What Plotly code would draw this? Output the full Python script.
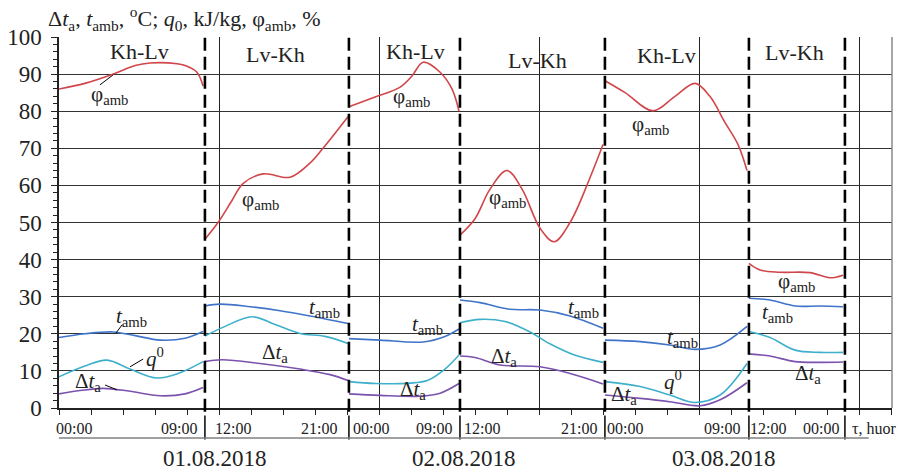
import plotly.graph_objects as go

# ---------------- data ----------------
routes = ["Kh-Lv", "Lv-Kh", "Kh-Lv", "Lv-Kh", "Kh-Lv", "Lv-Kh"]
route_x = [2.53, 6.75, 11.13, 14.94, 18.97, 22.97]
route_y = [96, 95.4, 96, 93.8, 95.1, 95.7]
boundaries = [4.56, 9.06, 12.53, 17.06, 21.56, 24.56]

# relative humidity phi_amb, %
phi_x = [[0, 0.81, 1.69, 2.38, 2.84, 3.69, 3.94, 4.31, 4.5],
         [4.56, 4.97, 5.41, 5.75, 6.38, 7.22, 7.84, 8.25, 9.03],
         [9.06, 9.88, 10.66, 11.03, 11.38, 11.91, 12.28, 12.5],
         [12.53, 13.0, 13.47, 14.0, 14.47, 15.03, 15.47, 15.97, 16.59, 17.0],
         [17.06, 17.69, 18.56, 19.25, 19.88, 20.34, 20.81, 21.22, 21.5],
         [21.56, 21.91, 22.53, 23.47, 24.09, 24.5]]
phi_y = [[86, 87.5, 90, 92.3, 93, 92.8, 92.3, 90.5, 86.8],
         [45.5, 50, 56, 60.5, 63.1, 62.2, 66, 70, 78.5],
         [81.2, 83.8, 86.5, 89.5, 93.2, 90.5, 86, 80],
         [46.6, 51, 59, 64, 59, 48.5, 44.8, 50, 62, 71],
         [88.2, 85, 80.1, 84, 87.5, 84, 77, 71, 64],
         [39, 37.2, 36.6, 36.5, 35.1, 35.8]]

# ambient temperature t_amb, C
tamb_x = [[0, 0.81, 1.69, 2.38, 3.16, 3.94, 4.5],
          [4.56, 5.03, 5.97, 6.91, 7.84, 9.03],
          [9.06, 10.03, 11.38, 12.06, 12.5],
          [12.53, 13.16, 14.09, 15.03, 15.97, 17.0],
          [17.06, 18.16, 19.09, 19.88, 20.66, 21.5],
          [21.56, 22.22, 23.0, 23.78, 24.5]]
tamb_y = [[19, 20, 20.5, 19.5, 18.3, 18.8, 20.6],
          [27.5, 28, 27.3, 26.2, 24.8, 22.8],
          [18.7, 18.3, 17.8, 19.3, 21.3],
          [29.1, 28.4, 26.6, 26.4, 24.8, 21.5],
          [18.3, 17.9, 17, 15.8, 17, 22],
          [29.6, 29.1, 27.5, 27.5, 27.3]]

# cooling capacity q0, kJ/kg
q0_x = [[0, 0.81, 1.5, 2.22, 3.06, 3.78, 4.5],
        [4.56, 5.19, 6.03, 6.75, 7.53, 8.31, 9.03],
        [9.06, 9.88, 10.97, 11.53, 12.06, 12.5],
        [12.53, 13.16, 13.94, 14.72, 15.34, 16.13, 17.0],
        [17.06, 18.16, 19.09, 19.88, 20.66, 21.5],
        [21.56, 22.22, 23.0, 23.78, 24.5]]
q0_y = [[8.4, 11.3, 12.9, 10.5, 8.1, 9.5, 12.5],
        [19.4, 22, 24.6, 22.5, 20.1, 19.3, 17.4],
        [7.1, 6.6, 6.7, 7.5, 10.5, 14.3],
        [23, 23.9, 23.3, 20.5, 17.3, 14.2, 12.3],
        [7.1, 5.8, 3.5, 1.5, 3.5, 12],
        [20.6, 19.0, 15.6, 15.0, 15.0]]

# air temperature drop dt_a, C
dta_x = [[0, 0.66, 1.38, 2.22, 3.16, 3.94, 4.5],
         [4.56, 5.09, 6.28, 7.53, 8.47, 9.03],
         [9.06, 10.03, 11.28, 11.91, 12.5],
         [12.53, 13.0, 13.78, 15.03, 15.97, 17.0],
         [17.06, 18.16, 19.09, 20.03, 20.66, 21.5],
         [21.56, 22.22, 23.0, 23.78, 24.5]]
dta_y = [[3.8, 4.7, 5.3, 4.5, 3.3, 3.8, 5.5],
         [12.5, 13, 12, 10.5, 9, 7.4],
         [3.8, 3.4, 3.2, 4, 6.6],
         [14.0, 13.6, 11.6, 11.1, 9.3, 6.5],
         [3.5, 2.6, 1.7, 0.6, 2.2, 6.8],
         [14.6, 14.0, 12.5, 12.3, 12.4]]

tick_text = ["00:00", "09:00", "12:00", "21:00", "00:00", "09:00",
             "12:00", "21:00", "00:00", "09:00", "12:00", "00:00", "τ, huor"]
tick_pos = [0.47, 3.75, 5.44, 8.13, 9.75, 11.72,
            13.22, 16.25, 17.69, 20.72, 22.16, 23.81, 25.47]
dates = ["01.08.2018", "02.08.2018", "03.08.2018"]
date_pos = [4.88, 12.66, 20.78]

# curve labels (x, y)
lbl_phi = [(1.59, 84.4), (6.31, 56.1), (11.03, 83.8), (14.0, 56.6), (18.47, 76.3), (23.06, 34.0)]
lbl_tamb = [(2.28, 24.5), (8.31, 27.0), (11.5, 22.4), (16.38, 27.0), (19.47, 18.9), (22.44, 25.6)]
lbl_q0 = [(3.0, 13.7), (19.19, 7.3)]
lbl_dta = [(0.91, 7.0), (6.75, 14.8), (11.06, 4.9), (13.91, 13.7), (17.66, 3.5), (23.41, 9.2)]
leaders = [((1.28, 87.1), (1.69, 89.8)), ((1.78, 20.2), (1.97, 22.4)),
           ((2.22, 11.1), (2.63, 13.2)), ((1.44, 6.2), (1.81, 4.9))]

# ---------------- figure ----------------
FONT = "Liberation Serif"
C_PHI = "#d0464a"
C_TAMB = "#3f74c8"
C_Q0 = "#3fb0cc"
C_DTA = "#7b52ad"

fig = go.Figure()

series = [(phi_x, phi_y, C_PHI), (tamb_x, tamb_y, C_TAMB),
          (q0_x, q0_y, C_Q0), (dta_x, dta_y, C_DTA)]
for xs, ys, col in series:
    for sx, sy in zip(xs, ys):
        fig.add_trace(go.Scatter(x=sx, y=sy, mode="lines",
                                 line=dict(color=col, width=1.6, shape="spline", smoothing=1.0),
                                 showlegend=False, hoverinfo="skip"))

shapes = []
for b in boundaries:
    shapes.append(dict(type="line", xref="x", yref="paper", x0=b, x1=b, y0=-0.01, y1=1,
                       line=dict(color="black", width=2.6, dash="13px,6px")))
    shapes.append(dict(type="line", xref="x", yref="paper", x0=b, x1=b, y0=-0.02, y1=-0.085,
                       line=dict(color="black", width=1.5)))
shapes.append(dict(type="line", xref="x", yref="paper", x0=-0.1, x1=25.3, y0=-0.081, y1=-0.081,
                   line=dict(color="#808080", width=1.5)))
shapes.append(dict(type="line", xref="paper", yref="paper", x0=1, x1=1, y0=0, y1=1,
                   line=dict(color="#888888", width=1.5)))
for (p0, p1) in leaders:
    shapes.append(dict(type="line", xref="x", yref="y", x0=p0[0], y0=p0[1], x1=p1[0], y1=p1[1],
                       line=dict(color="black", width=1)))

ann = []
for t, x in zip(tick_text, tick_pos):
    ann.append(dict(x=x, y=-0.054, xref="x", yref="paper", text=t, showarrow=False,
                    font=dict(family=FONT, size=16, color="#222"), xanchor="center", yanchor="middle"))
for t, x in zip(dates, date_pos):
    ann.append(dict(x=x, y=-0.135, xref="x", yref="paper", text=t, showarrow=False,
                    font=dict(family=FONT, size=23, color="#222"), xanchor="center", yanchor="middle"))
for t, x, y in zip(routes, route_x, route_y):
    ann.append(dict(x=x, y=y, xref="x", yref="y", text=t, showarrow=False,
                    font=dict(family=FONT, size=22, color="#222"), xanchor="center", yanchor="middle"))
for x, y in lbl_phi:
    ann.append(dict(x=x, y=y, text="φ<sub>amb</sub>", showarrow=False,
                    font=dict(family=FONT, size=21, color="#222")))
for x, y in lbl_tamb:
    ann.append(dict(x=x, y=y, text="<i>t</i><sub>amb</sub>", showarrow=False,
                    font=dict(family=FONT, size=21, color="#222")))
for x, y in lbl_q0:
    ann.append(dict(x=x, y=y, text="<i>q</i><sup>0</sup>", showarrow=False,
                    font=dict(family=FONT, size=21, color="#222")))
for x, y in lbl_dta:
    ann.append(dict(x=x, y=y, text="Δ<i>t</i><sub>a</sub>", showarrow=False,
                    font=dict(family=FONT, size=21, color="#222")))
ann.append(dict(x=0, xshift=-13, y=1.049, xref="paper", yref="paper", xanchor="left", yanchor="middle",
                showarrow=False, font=dict(family=FONT, size=22, color="#222"),
                text="Δ<i>t</i><sub>a</sub>, <i>t</i><sub>amb</sub>, <sup>o</sup>C; <i>q</i><sub>0</sub>, kJ/kg, φ<sub>amb</sub>, %"))

# the page body adds an 8px offset, so the figure is 8px smaller with trimmed margins
fig.update_layout(
    width=897, height=465,
    margin=dict(l=51, r=13, t=29, b=65, autoexpand=False),
    paper_bgcolor="white", plot_bgcolor="white",
    shapes=shapes, annotations=ann,
    showlegend=False,
    font=dict(family=FONT, color="#222"),
)
fig.update_xaxes(range=[0, 833 / 32], showgrid=True, gridcolor="#222", gridwidth=1,
                 tick0=0, dtick=5, ticks="outside", ticklen=5, tickcolor="#222",
                 showticklabels=False, zeroline=False, automargin=False,
                 showline=True, linecolor="#222", linewidth=1.5, mirror=False,
                 minor=dict(dtick=1, ticks="outside", ticklen=5, tickcolor="#222", showgrid=False))
fig.update_yaxes(range=[0, 100], showgrid=True, gridcolor="#333", gridwidth=1,
                 tick0=0, dtick=10, ticks="outside", ticklen=6, tickcolor="#222",
                 tickfont=dict(family=FONT, size=23, color="#222"), ticklabelstandoff=5,
                 zeroline=False, showline=True, linecolor="#222", linewidth=1.5, automargin=False,
                 minor=dict(dtick=2, ticks="outside", ticklen=4, tickcolor="#222", showgrid=False))

fig.write_html("out.html")
